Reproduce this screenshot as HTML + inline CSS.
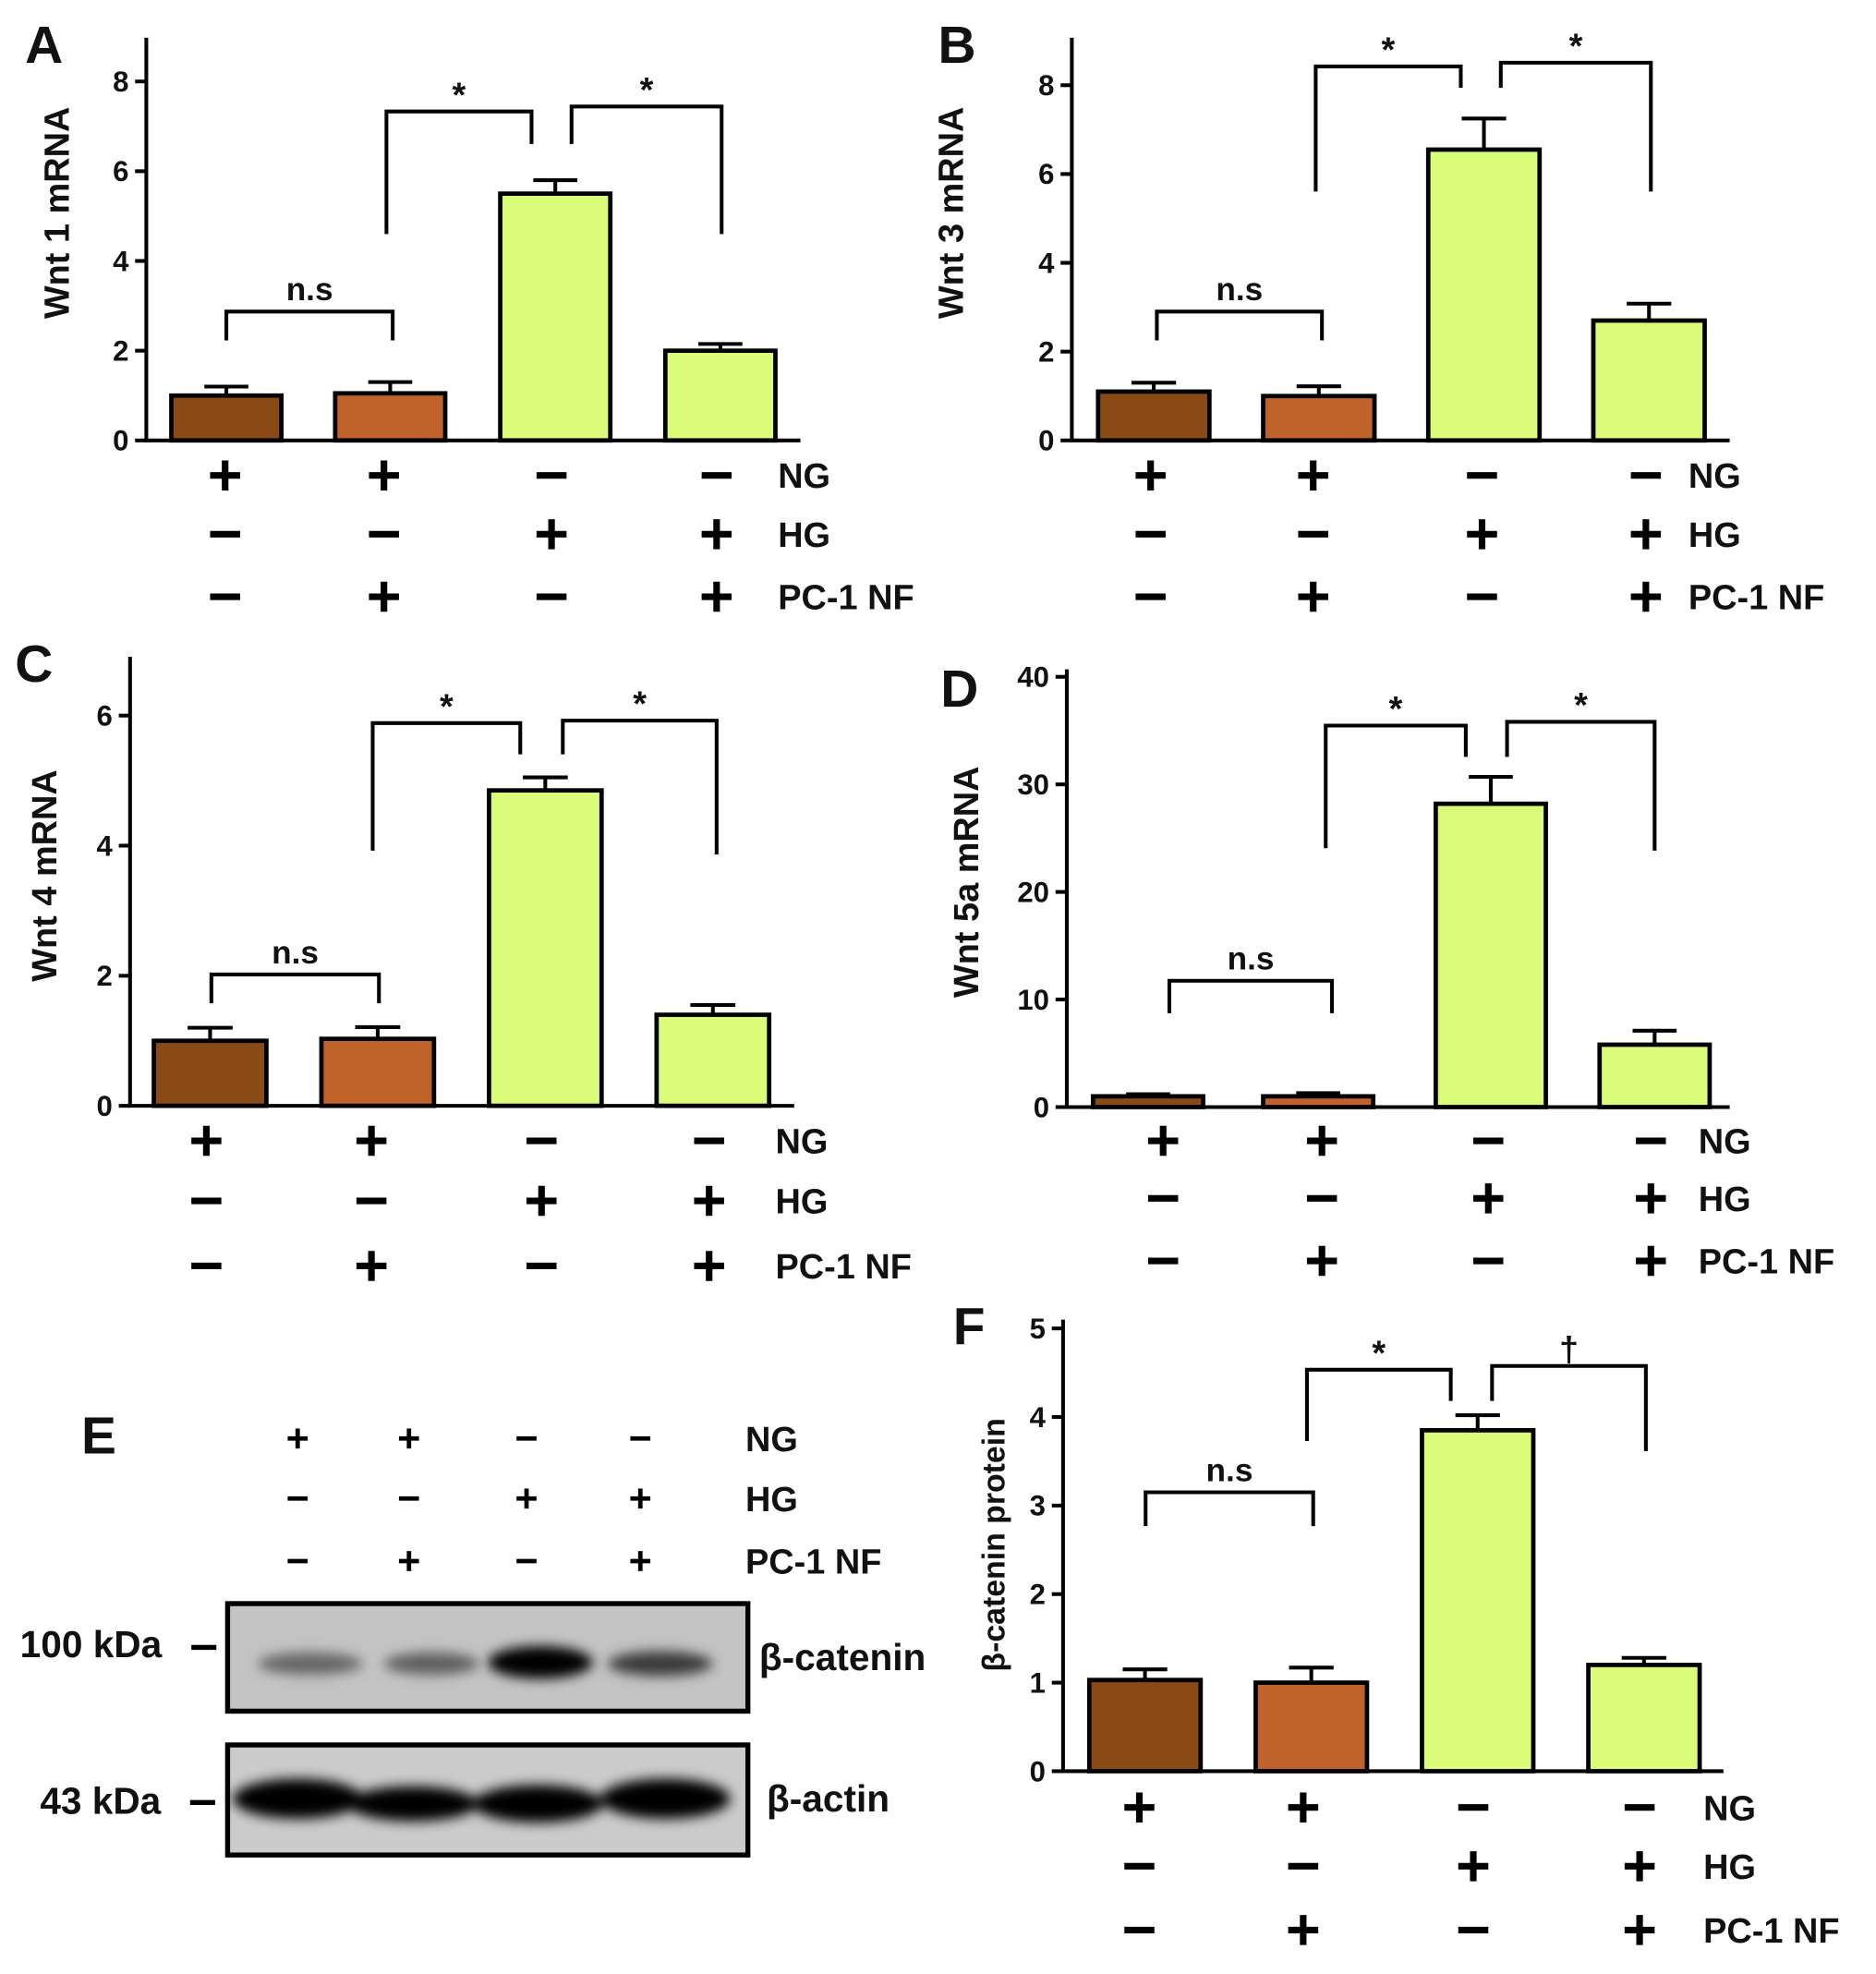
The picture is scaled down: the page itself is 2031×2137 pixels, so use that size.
<!DOCTYPE html>
<html><head><meta charset="utf-8">
<style>
html,body{margin:0;padding:0;background:#fff;}
svg{display:block;}
text{font-family:"Liberation Sans Narrow","Liberation Sans",sans-serif;font-weight:bold;fill:#111;}
</style></head>
<body>
<svg id="fig" width="2031" height="2137" viewBox="0 0 1500 1578" xmlns="http://www.w3.org/2000/svg">
<defs>
<filter id="blur" x="-20%" y="-50%" width="140%" height="200%"><feGaussianBlur stdDeviation="5"/></filter>
</defs>
<g id="panels"></g>
<g id="blot">
  <rect x="182" y="1282" width="416" height="86" fill="#c4c4c4" stroke="#000" stroke-width="4"/>
  <g filter="url(#blur)">
    <ellipse cx="248" cy="1330" rx="42" ry="9" fill="#666"/>
    <ellipse cx="345" cy="1330" rx="38" ry="9" fill="#5e5e5e"/>
    <ellipse cx="432" cy="1329" rx="42" ry="13" fill="#050505"/>
    <ellipse cx="528" cy="1330" rx="42" ry="10" fill="#3a3a3a"/>
  </g>
  <rect x="182" y="1395" width="416" height="88" fill="#cbcbcb" stroke="#000" stroke-width="4"/>
  <g filter="url(#blur)">
    <ellipse cx="238" cy="1438" rx="52" ry="16" fill="#000"/>
    <ellipse cx="330" cy="1442" rx="52" ry="14" fill="#000"/>
    <ellipse cx="430" cy="1442" rx="52" ry="15" fill="#000"/>
    <ellipse cx="532" cy="1438" rx="52" ry="16" fill="#000"/>
  </g>
  <text x="16" y="1325" font-size="30">100  kDa</text>
  <line x1="153" y1="1317" x2="173" y2="1317" stroke="#000" stroke-width="4"/>
  <text x="32" y="1450" font-size="30">43  kDa</text>
  <line x1="152" y1="1441" x2="172" y2="1441" stroke="#000" stroke-width="4"/>
  <text x="607" y="1335" font-size="30">β-catenin</text>
  <text x="613" y="1448" font-size="30">β-actin</text>
</g>
</svg>
<script>
// ---- Panel data ----
const conditionNG = ["+","+","-","-"];
const conditionHG = ["-","-","+","+"];
const conditionPC = ["-","+","-","+"];
const barColors = ["#8a4a16","#c0622b","#dafc78","#dafc78"];

const valuesA = [1.0, 1.05, 5.5, 2.0];
const errorsA = [0.2, 0.25, 0.3, 0.15];
const ticksA = [0, 2, 4, 6, 8];

const valuesB = [1.1, 1.0, 6.55, 2.7];
const errorsB = [0.2, 0.22, 0.7, 0.38];
const ticksB = [0, 2, 4, 6, 8];

const valuesC = [1.0, 1.03, 4.85, 1.4];
const errorsC = [0.2, 0.18, 0.2, 0.15];
const ticksC = [0, 2, 4, 6];

const valuesD = [1.0, 1.0, 28.2, 5.8];
const errorsD = [0.2, 0.3, 2.5, 1.3];
const ticksD = [0, 10, 20, 30, 40];

const valuesF = [1.03, 1.0, 3.85, 1.2];
const errorsF = [0.12, 0.17, 0.17, 0.08];
const ticksF = [0, 1, 2, 3, 4, 5];

const blotCenters = [238, 327, 421, 512];

const NS = "http://www.w3.org/2000/svg";
const root = document.getElementById("panels");
function mk(tag, attrs, parent) {
  const e = document.createElementNS(NS, tag);
  for (const k in attrs) e.setAttribute(k, attrs[k]);
  (parent || root).appendChild(e);
  return e;
}
function txt(s, attrs, parent) { const e = mk("text", attrs, parent); e.textContent = s; return e; }

function sign(g, s, cx, cy, size) {
  const h = size / 2;
  if (s === "+") {
    mk("line", {x1: cx - h, y1: cy, x2: cx + h, y2: cy, stroke: "#000", "stroke-width": size * 0.22}, g);
    mk("line", {x1: cx, y1: cy - h, x2: cx, y2: cy + h, stroke: "#000", "stroke-width": size * 0.22}, g);
  } else {
    mk("line", {x1: cx - h, y1: cy, x2: cx + h, y2: cy, stroke: "#000", "stroke-width": size * 0.22}, g);
  }
}

function panel(cfg) {
  const g = mk("g", {});
  
  
  const y = v => cfg.y0 - (v / cfg.tmax) * (cfg.y0 - cfg.ytop);
  // axes
  const ax = mk("path", {d: `M${cfg.ax},${cfg.axTop} V${cfg.y0} H${cfg.axEnd}`, fill: "none", stroke: "#000", "stroke-width": 3}, g);
  
  
  cfg.ticks.forEach(t => {
    mk("line", {x1: cfg.ax - 9, y1: y(t), x2: cfg.ax, y2: y(t), stroke: "#000", "stroke-width": 3}, g);
    const tl = txt(String(t), {x: cfg.ax - 14, y: y(t) + 8, "font-size": 23, "text-anchor": "end"}, g);
    
    
  });
  // bars
  cfg.values.forEach((v, i) => {
    const x0 = cfg.bx[i], w = cfg.bw;
    const top = y(v), et = y(v + cfg.errors[i]);
    const cx = x0 + w / 2;
    mk("line", {x1: cx, y1: top, x2: cx, y2: et, stroke: "#000", "stroke-width": 3}, g);
    mk("line", {x1: cx - w * 0.2, y1: et, x2: cx + w * 0.2, y2: et, stroke: "#000", "stroke-width": 3}, g);
    const r = mk("rect", {x: x0, y: top, width: w, height: cfg.y0 - top, fill: barColors[i], stroke: "#000", "stroke-width": 3.5}, g);
    
    
  });
  // y title
  const yt = txt(cfg.ytitle, {x: 0, y: 0, "font-size": cfg.ytSize || 28, "text-anchor": "middle", transform: `translate(${cfg.ytx},${cfg.yty}) rotate(-90)`}, g);
  
  
  // letter
  const L = txt(cfg.letter, {x: cfg.lx, y: cfg.ly, "font-size": 42, "font-family": "Liberation Sans, sans-serif"}, g);
  
  
  // brackets
  cfg.brackets.forEach(b => {
    const p = mk("path", {d: `M${b[0]},${b[1]} V${b[2]} H${b[3]} V${b[4]}`, fill: "none", stroke: "#000", "stroke-width": 3}, g);
    
    
    const lt = txt(b[5], {x: (b[0] + b[3]) / 2, y: b[2] - (b[5] === "n.s" ? 9 : 4), "font-size": b[5] === "n.s" ? 26 : 28, "text-anchor": "middle"}, g);
    
    
  });
  // condition rows
  const rows = [conditionNG, conditionHG, conditionPC];
  const names = ["NG", "HG", "PC-1 NF"];
  rows.forEach((row, ri) => {
    row.forEach((s, i) => sign(g, s, cfg.sx[i], cfg.sy[ri], 24));
    const nl = txt(names[ri], {x: cfg.lblx, y: cfg.sy[ri] + 10, "font-size": 28}, g);
    
    
  });
}

panel({name: "panel-a-wnt1", letter: "A", lx: 20, ly: 50, values: valuesA, errors: errorsA, ticks: ticksA, tmax: 8, ytop: 65, y0: 352,
  ax: 117, axTop: 30, axEnd: 640, bx: [137, 268, 400, 532], bw: 88, ytitle: "Wnt 1 mRNA", ytx: 55, yty: 170,
  brackets: [[181, 272, 249, 314, 272, "n.s"], [309, 187, 89, 425, 115, "*"], [457, 115, 85, 577, 187, "*"]],
  sx: [180, 307, 441, 573], sy: [380, 427, 477], lblx: 622});
panel({name: "panel-b-wnt3", letter: "B", lx: 750, ly: 50, values: valuesB, errors: errorsB, ticks: ticksB, tmax: 8, ytop: 68, y0: 352,
  ax: 857, axTop: 30, axEnd: 1383, bx: [878, 1010, 1142, 1274], bw: 89, ytitle: "Wnt 3 mRNA", ytx: 770, yty: 170,
  brackets: [[925, 272, 249, 1057, 272, "n.s"], [1052, 153, 53, 1168, 70, "*"], [1200, 70, 50, 1320, 153, "*"]],
  sx: [920, 1050, 1185, 1316], sy: [380, 427, 477], lblx: 1350});
panel({name: "panel-c-wnt4", letter: "C", lx: 12, ly: 545, values: valuesC, errors: errorsC, ticks: ticksC, tmax: 6, ytop: 572, y0: 884,
  ax: 104, axTop: 525, axEnd: 635, bx: [123, 257, 391, 525], bw: 90, ytitle: "Wnt 4 mRNA", ytx: 45, yty: 700,
  brackets: [[169, 802, 779, 303, 802, "n.s"], [298, 680, 578, 416, 603, "*"], [450, 603, 576, 573, 683, "*"]],
  sx: [165, 297, 433, 567], sy: [912, 960, 1012], lblx: 620});
panel({name: "panel-d-wnt5a", letter: "D", lx: 752, ly: 565, values: valuesD, errors: errorsD, ticks: ticksD, tmax: 40, ytop: 541, y0: 885,
  ax: 853, axTop: 535, axEnd: 1383, bx: [874, 1010, 1148, 1279], bw: [1][0] * 88, ytitle: "Wnt 5a mRNA", ytx: 782, yty: 705,
  brackets: [[935, 810, 784, 1065, 810, "n.s"], [1060, 678, 580, 1172, 605, "*"], [1205, 605, 577, 1323, 680, "*"]],
  sx: [930, 1057, 1190, 1320], sy: [912, 958, 1008], lblx: 1358});
panel({name: "panel-f-beta-catenin", letter: "F", lx: 762, ly: 1075, values: valuesF, errors: errorsF, ticks: ticksF, tmax: 5, ytop: 1062, y0: 1416,
  ax: 850, axTop: 1055, axEnd: 1378, bx: [871, 1004, 1137, 1270], bw: 89, ytitle: "β-catenin protein", ytSize: 25, ytx: 803, yty: 1235,
  brackets: [[916, 1220, 1193, 1050, 1220, "n.s"], [1045, 1152, 1095, 1160, 1120, "*"], [1193, 1120, 1092, 1316, 1160, "†"]],
  sx: [911, 1042, 1178, 1311], sy: [1445, 1492, 1543], lblx: 1362});

// Panel E condition rows
(function () {
  const g = mk("g", {});
  
  
  const L = txt("E", {x: 65, y: 1162, "font-size": 42, "font-family": "Liberation Sans, sans-serif"}, g);
  
  
  const rows = [conditionNG, conditionHG, conditionPC];
  const ys = [1150, 1198, 1248];
  const names = ["NG", "HG", "PC-1 NF"];
  rows.forEach((row, ri) => {
    row.forEach((s, i) => sign(g, s, blotCenters[i], ys[ri], 16));
    const nl = txt(names[ri], {x: 596, y: ys[ri] + 10, "font-size": 28}, g);
    
    
  });
})();
</script>
</body></html>
